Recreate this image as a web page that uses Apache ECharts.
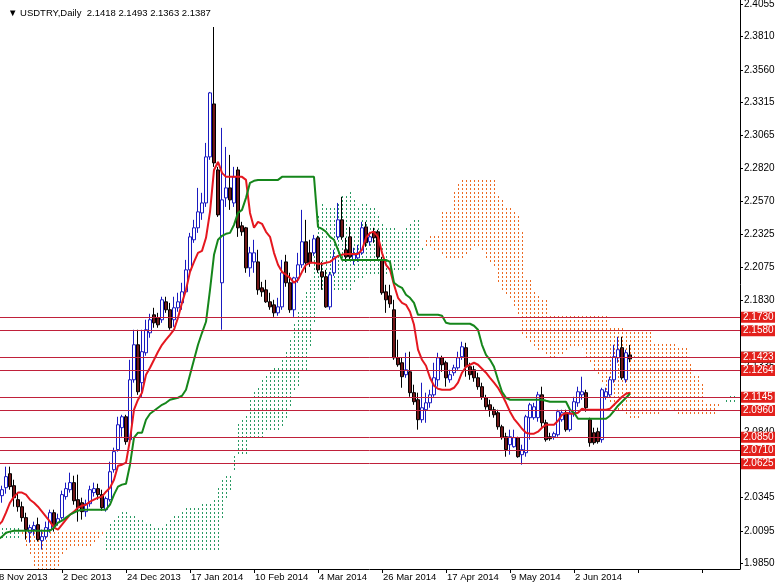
<!DOCTYPE html>
<html><head><meta charset="utf-8">
<script src="https://cdn.jsdelivr.net/npm/echarts@6/dist/echarts.min.js"></script>
<style>html,body{margin:0;padding:0;background:#fff}#c{width:775px;height:584px}</style>
</head><body><div id="c"></div>
<script>
const xTickLabels = ['8 Nov 2013','2 Dec 2013','24 Dec 2013','17 Jan 2014','10 Feb 2014','4 Mar 2014','26 Mar 2014','17 Apr 2014','9 May 2014','2 Jun 2014'];
const yTickValues = [2.4055,2.3810,2.3560,2.3315,2.3065,2.2820,2.2570,2.2325,2.2075,2.1830,2.1580,2.1335,2.1085,2.0840,2.0590,2.0345,2.0095,1.9850];
const levels = [2.1730,2.1580,2.1423,2.1264,2.1145,2.0960,2.0850,2.0710,2.0625];
const lastPrice = 2.1387;

const opens = [
2.0330,2.0360,2.0420,2.0525,2.0435,2.0330,2.0277,2.0195,2.0082,2.0105,
2.0142,2.0022,2.0052,2.0105,2.0232,2.0157,2.0195,2.0353,2.0405,2.0458,
2.0330,2.0307,2.0240,2.0300,2.0383,2.0413,2.0368,2.0255,2.0330,2.0555,
2.0706,2.0871,2.0953,2.0781,2.1231,2.1494,2.1209,2.1434,2.1584,2.1719,
2.1697,2.1682,2.1817,2.1757,2.1682,2.1772,2.1809,2.1892,2.2057,2.2283,
2.2373,2.2485,2.2560,2.2906,2.3304,2.2808,2.1960,2.2598,2.2673,2.2560,
2.2808,2.2388,2.2373,2.2072,2.2117,2.2117,2.1922,2.1907,2.1817,2.1794,
2.1734,2.1779,2.2117,2.1960,2.1757,2.1997,2.2095,2.2268,2.2185,2.2185,
2.2298,2.2042,2.2005,2.1779,2.2035,2.2305,2.2433,2.2208,2.2305,2.2132,
2.2147,2.2185,2.2380,2.2268,2.2343,2.2343,2.2132,2.1892,2.1862,2.1757,
2.1396,2.1359,2.1269,2.1291,2.1134,2.1081,2.0931,2.1006,2.1058,2.1118,
2.1231,2.1396,2.1359,2.1231,2.1284,2.1321,2.1404,2.1472,2.1329,2.1306,
2.1246,2.1179,2.1096,2.1043,2.1006,2.0983,2.0878,2.0803,2.0743,2.0728,
2.0796,2.0668,2.0683,2.0946,2.0946,2.0946,2.1118,2.0908,2.0803,2.0803,
2.0818,2.0931,2.0983,2.0856,2.0983,2.1058,2.1118,2.1134,2.0931,2.0833,
2.0841,2.0781,2.1103,2.1118,2.1231,2.1396,2.1472,2.1231,2.1418];
const closes = [
2.0383,2.0405,2.0503,2.0428,2.0345,2.0277,2.0195,2.0105,2.0120,2.0135,
2.0030,2.0052,2.0120,2.0232,2.0127,2.0187,2.0368,2.0413,2.0458,2.0322,
2.0270,2.0240,2.0300,2.0405,2.0413,2.0368,2.0270,2.0338,2.0540,2.0691,
2.0893,2.0953,2.0766,2.1231,2.1494,2.1141,2.1442,2.1607,2.1682,2.1659,
2.1644,2.1832,2.1757,2.1622,2.1772,2.1817,2.1892,2.2057,2.2305,2.2373,
2.2493,2.2560,2.2906,2.3387,2.2861,2.2470,2.2583,2.2673,2.2583,2.2756,
2.2373,2.2343,2.2072,2.2185,2.2185,2.1907,2.1892,2.1817,2.1779,2.1734,
2.1779,2.2035,2.1960,2.1757,2.1997,2.2095,2.2268,2.2110,2.2110,2.2290,
2.2057,2.2005,2.1779,2.2020,2.2155,2.2433,2.2305,2.2155,2.2155,2.2170,
2.2185,2.2373,2.2260,2.2305,2.2298,2.2155,2.1885,2.1832,2.1802,2.1396,
2.1344,2.1254,2.1306,2.1134,2.1066,2.0931,2.1021,2.1058,2.1118,2.1246,
2.1396,2.1344,2.1246,2.1269,2.1321,2.1396,2.1479,2.1329,2.1269,2.1246,
2.1179,2.1103,2.1028,2.1006,2.0968,2.0878,2.0796,2.0706,2.0803,2.0796,
2.0653,2.0706,2.0953,2.1043,2.1028,2.1118,2.0908,2.0781,2.0788,2.0826,
2.0991,2.0983,2.0856,2.0983,2.1066,2.1141,2.1141,2.1021,2.0758,2.0758,
2.0766,2.1156,2.1141,2.1231,2.1404,2.1457,2.1246,2.1434,2.1387];
const lows = [
2.0292,2.0307,2.0375,2.0405,2.0277,2.0240,2.0165,2.0030,2.0007,2.0060,
2.0015,1.9955,2.0030,2.0082,2.0090,2.0135,2.0180,2.0330,2.0383,2.0292,
2.0165,2.0180,2.0202,2.0277,2.0353,2.0330,2.0247,2.0240,2.0315,2.0533,
2.0691,2.0803,2.0743,2.0758,2.1209,2.1118,2.1103,2.1412,2.1547,2.1622,
2.1622,2.1659,2.1734,2.1607,2.1629,2.1742,2.1757,2.1885,2.2035,2.2260,
2.2335,2.2433,2.2530,2.2884,2.2831,2.2455,2.1607,2.2530,2.2508,2.2530,
2.2305,2.2313,2.2035,2.2005,2.2035,2.1870,2.1855,2.1809,2.1757,2.1704,
2.1712,2.1757,2.1930,2.1734,2.1704,2.1960,2.2072,2.2035,2.2080,2.2162,
2.2035,2.1907,2.1772,2.1757,2.2012,2.2283,2.2283,2.2117,2.2132,2.2095,
2.2117,2.2170,2.2230,2.2238,2.2260,2.2132,2.1870,2.1734,2.1772,2.1381,
2.1329,2.1171,2.1246,2.1103,2.1043,2.0856,2.0908,2.0908,2.1021,2.1103,
2.1179,2.1291,2.1179,2.1209,2.1261,2.1306,2.1381,2.1254,2.1231,2.1216,
2.1156,2.1081,2.1006,2.0953,2.0946,2.0856,2.0781,2.0653,2.0668,2.0721,
2.0645,2.0593,2.0653,2.0781,2.0931,2.0916,2.0878,2.0766,2.0773,2.0781,
2.0803,2.0916,2.0841,2.0841,2.0953,2.1028,2.1081,2.0991,2.0728,2.0743,
2.0751,2.0758,2.1081,2.1103,2.1209,2.1359,2.1231,2.1209,2.1363];
const highs = [
2.0420,2.0435,2.0578,2.0578,2.0480,2.0375,2.0315,2.0232,2.0142,2.0165,
2.0195,2.0105,2.0165,2.0255,2.0255,2.0225,2.0398,2.0458,2.0533,2.0510,
2.0518,2.0345,2.0330,2.0435,2.0458,2.0450,2.0405,2.0353,2.0615,2.0721,
2.0953,2.0968,2.0968,2.1381,2.1607,2.1607,2.1607,2.1682,2.1727,2.1772,
2.1734,2.1855,2.1855,2.1809,2.1855,2.1885,2.1960,2.2132,2.2335,2.2433,
2.2673,2.2636,2.3011,2.3394,2.3882,2.2831,2.3124,2.2981,2.2921,2.2831,
2.2831,2.2418,2.2380,2.2230,2.2283,2.2208,2.1967,2.1982,2.1885,2.1832,
2.1847,2.2132,2.2170,2.2035,2.2005,2.2185,2.2508,2.2433,2.2283,2.2320,
2.2313,2.2117,2.2057,2.2042,2.2208,2.2560,2.2606,2.2298,2.2380,2.2223,
2.2245,2.2418,2.2418,2.2343,2.2373,2.2358,2.2155,2.1945,2.1945,2.1832,
2.1532,2.1396,2.1434,2.1442,2.1194,2.1134,2.1209,2.1134,2.1156,2.1359,
2.1434,2.1412,2.1374,2.1306,2.1344,2.1442,2.1517,2.1509,2.1359,2.1336,
2.1284,2.1209,2.1118,2.1081,2.1028,2.1006,2.0893,2.0833,2.0856,2.0856,
2.0803,2.0743,2.0968,2.1058,2.1058,2.1141,2.1179,2.0931,2.0833,2.0841,
2.1006,2.1006,2.1006,2.0998,2.1103,2.1179,2.1254,2.1156,2.0946,2.0871,
2.0871,2.1171,2.1171,2.1254,2.1494,2.1554,2.1554,2.1457,2.1493];
const tenkan = [
2.0135,2.0165,2.0232,2.0307,2.0353,2.0383,2.0383,2.0368,2.0330,2.0307,
2.0277,2.0240,2.0202,2.0165,2.0120,2.0105,2.0142,2.0180,2.0217,2.0240,
2.0270,2.0285,2.0292,2.0315,2.0330,2.0345,2.0353,2.0390,2.0420,2.0480,
2.0585,2.0593,2.0608,2.0781,2.1006,2.1081,2.1134,2.1269,2.1321,2.1381,
2.1442,2.1494,2.1532,2.1569,2.1607,2.1697,2.1809,2.1907,2.2042,2.2117,
2.2185,2.2200,2.2298,2.2493,2.2808,2.2868,2.2786,2.2756,2.2756,2.2756,
2.2756,2.2756,2.2733,2.2485,2.2373,2.2418,2.2403,2.2343,2.2305,2.2185,
2.2095,2.2042,2.2020,2.1997,2.1960,2.1982,2.2042,2.2095,2.2110,2.2110,
2.2102,2.2102,2.2110,2.2117,2.2140,2.2162,2.2170,2.2177,2.2177,2.2177,
2.2177,2.2208,2.2298,2.2335,2.2343,2.2305,2.2185,2.2095,2.2057,2.1945,
2.1847,2.1809,2.1794,2.1742,2.1644,2.1457,2.1381,2.1336,2.1246,2.1186,
2.1164,2.1156,2.1156,2.1156,2.1171,2.1209,2.1284,2.1329,2.1344,2.1359,
2.1344,2.1314,2.1284,2.1246,2.1209,2.1171,2.1118,2.1058,2.0991,2.0938,
2.0901,2.0863,2.0833,2.0826,2.0826,2.0841,2.0871,2.0893,2.0893,2.0893,
2.0923,2.0968,2.0983,2.0976,2.0976,2.0983,2.1013,2.1006,2.1006,2.1006,
2.1006,2.1006,2.1006,2.1013,2.1043,2.1073,2.1103,2.1126,2.1134];
const kijun = [
2.0030,2.0052,2.0082,2.0090,2.0097,2.0097,2.0097,2.0097,2.0097,2.0097,
2.0097,2.0097,2.0097,2.0097,2.0120,2.0157,2.0172,2.0195,2.0217,2.0232,
2.0247,2.0255,2.0255,2.0255,2.0255,2.0255,2.0255,2.0255,2.0292,2.0368,
2.0428,2.0443,2.0450,2.0593,2.0796,2.0833,2.0833,2.0931,2.0976,2.0998,
2.1021,2.1043,2.1058,2.1081,2.1088,2.1096,2.1111,2.1156,2.1269,2.1381,
2.1494,2.1584,2.1667,2.1907,2.2170,2.2283,2.2313,2.2328,2.2335,2.2395,
2.2485,2.2508,2.2598,2.2711,2.2726,2.2733,2.2733,2.2733,2.2733,2.2733,
2.2733,2.2756,2.2756,2.2756,2.2756,2.2756,2.2756,2.2756,2.2756,2.2756,
2.2380,2.2365,2.2343,2.2305,2.2283,2.2208,2.2132,2.2132,2.2132,2.2132,
2.2132,2.2132,2.2132,2.2132,2.2132,2.2132,2.2132,2.2132,2.2117,2.1960,
2.1937,2.1922,2.1870,2.1847,2.1809,2.1719,2.1719,2.1719,2.1719,2.1719,
2.1719,2.1712,2.1659,2.1652,2.1652,2.1652,2.1652,2.1652,2.1652,2.1637,
2.1607,2.1494,2.1419,2.1381,2.1329,2.1231,2.1141,2.1096,2.1081,2.1081,
2.1081,2.1081,2.1081,2.1081,2.1081,2.1081,2.1081,2.1073,2.1066,2.1066,
2.1066,2.1066,2.1066,2.1006,2.0983,2.0938,2.0938,2.0938,2.0938,2.0938,
2.0938,2.0938,2.0938,2.0961,2.0998,2.1036,2.1066,2.1096,2.1126];
const spanA = [
2.0127,2.0127,2.0127,2.0127,2.0127,2.0127,2.0060,1.9992,1.9917,1.9842,
1.9767,1.9767,1.9767,1.9767,1.9767,1.9842,1.9917,1.9955,1.9977,1.9977,
1.9977,1.9977,1.9977,1.9992,2.0015,2.0045,2.0082,2.0108,2.0157,2.0198,
2.0225,2.0240,2.0240,2.0232,2.0214,2.0202,2.0187,2.0169,2.0150,2.0131,
2.0120,2.0131,2.0157,2.0187,2.0217,2.0236,2.0259,2.0270,2.0274,2.0285,
2.0292,2.0300,2.0304,2.0323,2.0356,2.0424,2.0507,2.0518,2.0529,2.0687,
2.0901,2.0957,2.0983,2.1100,2.1149,2.1190,2.1231,2.1269,2.1295,2.1325,
2.1348,2.1396,2.1460,2.1532,2.1656,2.1749,2.1840,2.1892,2.1982,2.2200,
2.2489,2.2575,2.2549,2.2542,2.2546,2.2575,2.2621,2.2632,2.2666,2.2598,
2.2549,2.2575,2.2568,2.2538,2.2523,2.2463,2.2418,2.2395,2.2384,2.2373,
2.2354,2.2369,2.2399,2.2425,2.2433,2.2433,2.2241,2.2234,2.2226,2.2211,
2.2211,2.2185,2.2151,2.2155,2.2155,2.2155,2.2155,2.2170,2.2215,2.2234,
2.2238,2.2219,2.2159,2.2114,2.2087,2.1952,2.1892,2.1866,2.1832,2.1794,
2.1727,2.1588,2.1550,2.1528,2.1483,2.1453,2.1442,2.1434,2.1408,2.1404,
2.1412,2.1430,2.1468,2.1490,2.1498,2.1498,2.1475,2.1404,2.1351,2.1314,
2.1269,2.1201,2.1130,2.1077,2.1040,2.1013,2.0991,2.0972,2.0957,2.0953,
2.0953,2.0961,2.0976,2.0983,2.0980,2.0980,2.0995,2.1013,2.1021,2.0991,
2.0980,2.0961,2.0976,2.0972,2.0972,2.0972,2.0972,2.0972,2.0972,2.0987,
2.1021,2.1055,2.1085,2.1111,2.1130];
const spanB = [
2.0030,2.0030,2.0030,2.0030,2.0030,2.0030,2.0090,2.0090,2.0090,2.0090,
2.0090,2.0090,2.0090,2.0090,2.0090,2.0090,2.0090,2.0090,2.0090,2.0090,
2.0090,2.0090,2.0090,2.0090,2.0090,2.0090,2.0090,1.9955,1.9955,1.9955,
1.9955,1.9955,1.9955,1.9955,1.9955,1.9955,1.9955,1.9955,1.9955,1.9955,
1.9955,1.9955,1.9955,1.9955,1.9955,1.9955,1.9955,1.9955,1.9955,1.9955,
1.9955,1.9955,1.9955,1.9955,1.9955,1.9955,2.0180,2.0330,2.0405,2.0555,
2.0668,2.0668,2.0668,2.0781,2.0781,2.0781,2.0781,2.0856,2.0856,2.0856,
2.0856,2.0893,2.0946,2.1043,2.1141,2.1194,2.1306,2.1314,2.1483,2.1674,
2.1918,2.1918,2.1918,2.1918,2.1918,2.1918,2.1918,2.1918,2.1918,2.1956,
2.1982,2.1986,2.2012,2.2024,2.2024,2.2024,2.2024,2.2024,2.2031,2.2042,
2.2061,2.2061,2.2061,2.2061,2.2061,2.2099,2.2208,2.2286,2.2313,2.2313,
2.2320,2.2493,2.2493,2.2493,2.2651,2.2726,2.2744,2.2744,2.2744,2.2744,
2.2744,2.2744,2.2744,2.2744,2.2744,2.2632,2.2606,2.2527,2.2527,2.2493,
2.2463,2.2369,2.1990,2.1990,2.1918,2.1888,2.1843,2.1843,2.1731,2.1731,
2.1731,2.1731,2.1731,2.1731,2.1731,2.1731,2.1731,2.1731,2.1731,2.1731,
2.1731,2.1731,2.1731,2.1629,2.1629,2.1629,2.1629,2.1599,2.1599,2.1599,
2.1599,2.1599,2.1599,2.1599,2.1505,2.1505,2.1505,2.1505,2.1505,2.1505,
2.1475,2.1475,2.1475,2.1374,2.1269,2.1269,2.1213,2.1062,2.1055,2.1055,
2.1055,2.1074,2.1074,2.1074,2.1074];

const FONT = "'Liberation Sans', Arial, sans-serif";
const slotCount = 186;
const labelStep = 16;
const cats = [];
for (let i = 0; i < slotCount; i++) cats.push(String(i));
const candles = opens.map((o, i) => [o, closes[i], lows[i], highs[i]]);
const cloud = spanA.map((a, i) => [i, a, spanB[i]]);

const levelMarks = [{
  yAxis: lastPrice,
  lineStyle: {color: '#a8a8a8', width: 1, type: 'solid'},
  label: {formatter: lastPrice.toFixed(4), backgroundColor: '#000', color: '#fff'}
}].concat(levels.map(v => ({
  yAxis: v,
  lineStyle: {color: '#c0203a', width: 1, type: 'solid'},
  label: {formatter: v.toFixed(4), backgroundColor: '#e3201b', color: '#fff'}
})));

const chart = echarts.init(document.getElementById('c'));
chart.setOption({
  animation: false,
  backgroundColor: '#ffffff',
  title: {
    text: '▼ USDTRY,Daily  2.1418 2.1493 2.1363 2.1387',
    left: 3, top: 3,
    textStyle: {fontFamily: FONT, fontSize: 9.5, fontWeight: 'normal', color: '#000'}
  },
  grid: {left: -4, right: 35, top: 0, bottom: 15, containLabel: false, outerBoundsMode: 'none'},
  xAxis: {
    type: 'category', data: cats, boundaryGap: true,
    axisLine: {show: true, lineStyle: {color: '#000', width: 1}},
    axisTick: {show: true, alignWithLabel: true, interval: (i) => i % labelStep === 0, length: 4, lineStyle: {color: '#000'}},
    axisLabel: {
      show: true, interval: (i) => i % labelStep === 0,
      formatter: (v, i) => xTickLabels[i / labelStep] || '',
      align: 'left', margin: 3, color: '#000', fontFamily: FONT, fontSize: 9.5,
      padding: [0, 0, 0, 1]
    },
    splitLine: {show: false}
  },
  yAxis: {
    type: 'value', position: 'right', min: 1.9809, max: 2.4085,
    axisLine: {show: true, lineStyle: {color: '#000', width: 1}},
    axisTick: {show: true, customValues: yTickValues, length: 3, lineStyle: {color: '#000'}},
    axisLabel: {
      show: true, customValues: yTickValues, formatter: (v) => Number(v).toFixed(4),
      margin: 4, color: '#000', fontFamily: FONT, fontSize: 10
    },
    splitLine: {show: false}
  },
  series: [
    {
      type: 'custom', name: 'cloud', data: cloud, clip: true, silent: true,
      encode: {x: 0, y: [1, 2]},
      renderItem: (params, api) => {
        const i = api.value(0), a = api.value(1), b = api.value(2);
        const pa = api.coord([i, a]), pb = api.coord([i, b]);
        const x = Math.round(pa[0]);
        const top = Math.min(pa[1], pb[1]);
        const bot = Math.max(pa[1], pb[1]);
        const color = a >= b ? '#2a9a64' : '#ec6a22';
        const children = [];
        for (let y = Math.ceil(top / 4) * 4; y <= bot; y += 4) {
          children.push({type: 'rect', silent: true,
            shape: {x: x, y: y, width: 1, height: 2},
            style: {fill: color}});
        }
        return {type: 'group', children: children};
      },
      markLine: {
        silent: true, symbol: ['none', 'none'], animation: false,
        label: {show: true, position: 'end', distance: 1, fontFamily: FONT, fontSize: 10, padding: [1, 2, 0, 2]},
        data: levelMarks
      }
    },
    {
      type: 'candlestick', name: 'USDTRY', data: candles, barWidth: 3,
      itemStyle: {color: '#ffffff', color0: '#701818', borderColor: '#1a1ac0', borderColor0: '#000000', borderWidth: 1}
    },
    {
      type: 'line', name: 'Tenkan', data: tenkan, symbol: 'none', showSymbol: false,
      lineStyle: {color: '#e5171f', width: 2}
    },
    {
      type: 'line', name: 'Kijun', data: kijun, symbol: 'none', showSymbol: false,
      lineStyle: {color: '#15861b', width: 2}
    }
  ]
});
</script>
</body></html>
